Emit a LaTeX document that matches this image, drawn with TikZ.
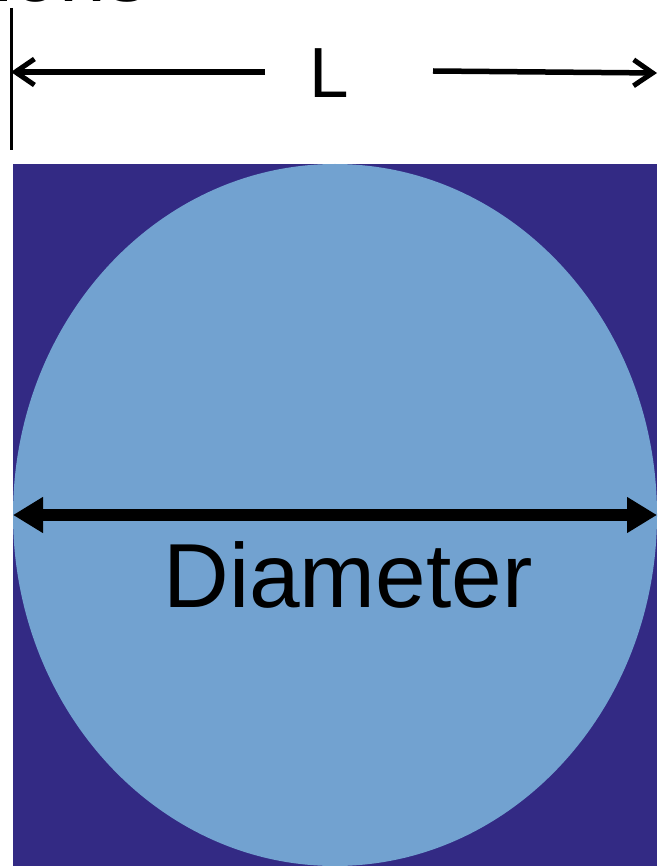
\documentclass[tikz,border=0pt]{standalone}
\usepackage{fontspec}
\setmainfont{Liberation Sans}
\usepackage{tikz}
\usetikzlibrary{arrows.meta, positioning, calc}
\definecolor{panel}{RGB}{51,42,132}
\definecolor{pore}{RGB}{114,162,208}

\begin{document}
\begin{tikzpicture}[x=1pt, y=-1pt]
  \useasboundingbox (0,0) rectangle (657,866);
  % heading cut off at the top
  \node[anchor=base west, inner sep=0pt, font=\fontsize{84}{84}\selectfont] (head) at (-6,2) {ions};
  % length bar
  \coordinate (tickTop) at (11,8);
  \coordinate (tickBot) at (11,150);
  \draw[line width=3pt] (tickTop) -- (tickBot);
  \node[font=\fontsize{71}{71}\selectfont] (lenlabel) at (329,73) {L};
  \coordinate (lenLeft) at (11,72);
  \coordinate (gapLeft) at (265,72);
  \coordinate (gapRight) at (433,71);
  \coordinate (lenRight) at (657,73);
  \draw[line width=5.5pt, -{Straight Barb[length=19pt, width=26pt, line width=5pt]}] (gapLeft) -- (lenLeft);
  \draw[line width=5.5pt, -{Straight Barb[length=19pt, width=26pt, line width=5pt]}] (gapRight) -- (lenRight);
  % cell and circle
  \fill[panel] (13,164) rectangle (657,866);
  \fill[pore] (335,515) ellipse [x radius=322pt, y radius=351pt];
  \coordinate (diaLeft) at (13,515);
  \coordinate (diaRight) at (657,515);
  \draw[line width=12pt, {Triangle[length=30pt, width=34pt]}-{Triangle[length=30pt, width=34pt]}] (diaLeft) -- (diaRight);
  \node[font=\fontsize{91}{91}\selectfont] (dialabel) at (348,575) {Diameter};
\end{tikzpicture}
\end{document}
